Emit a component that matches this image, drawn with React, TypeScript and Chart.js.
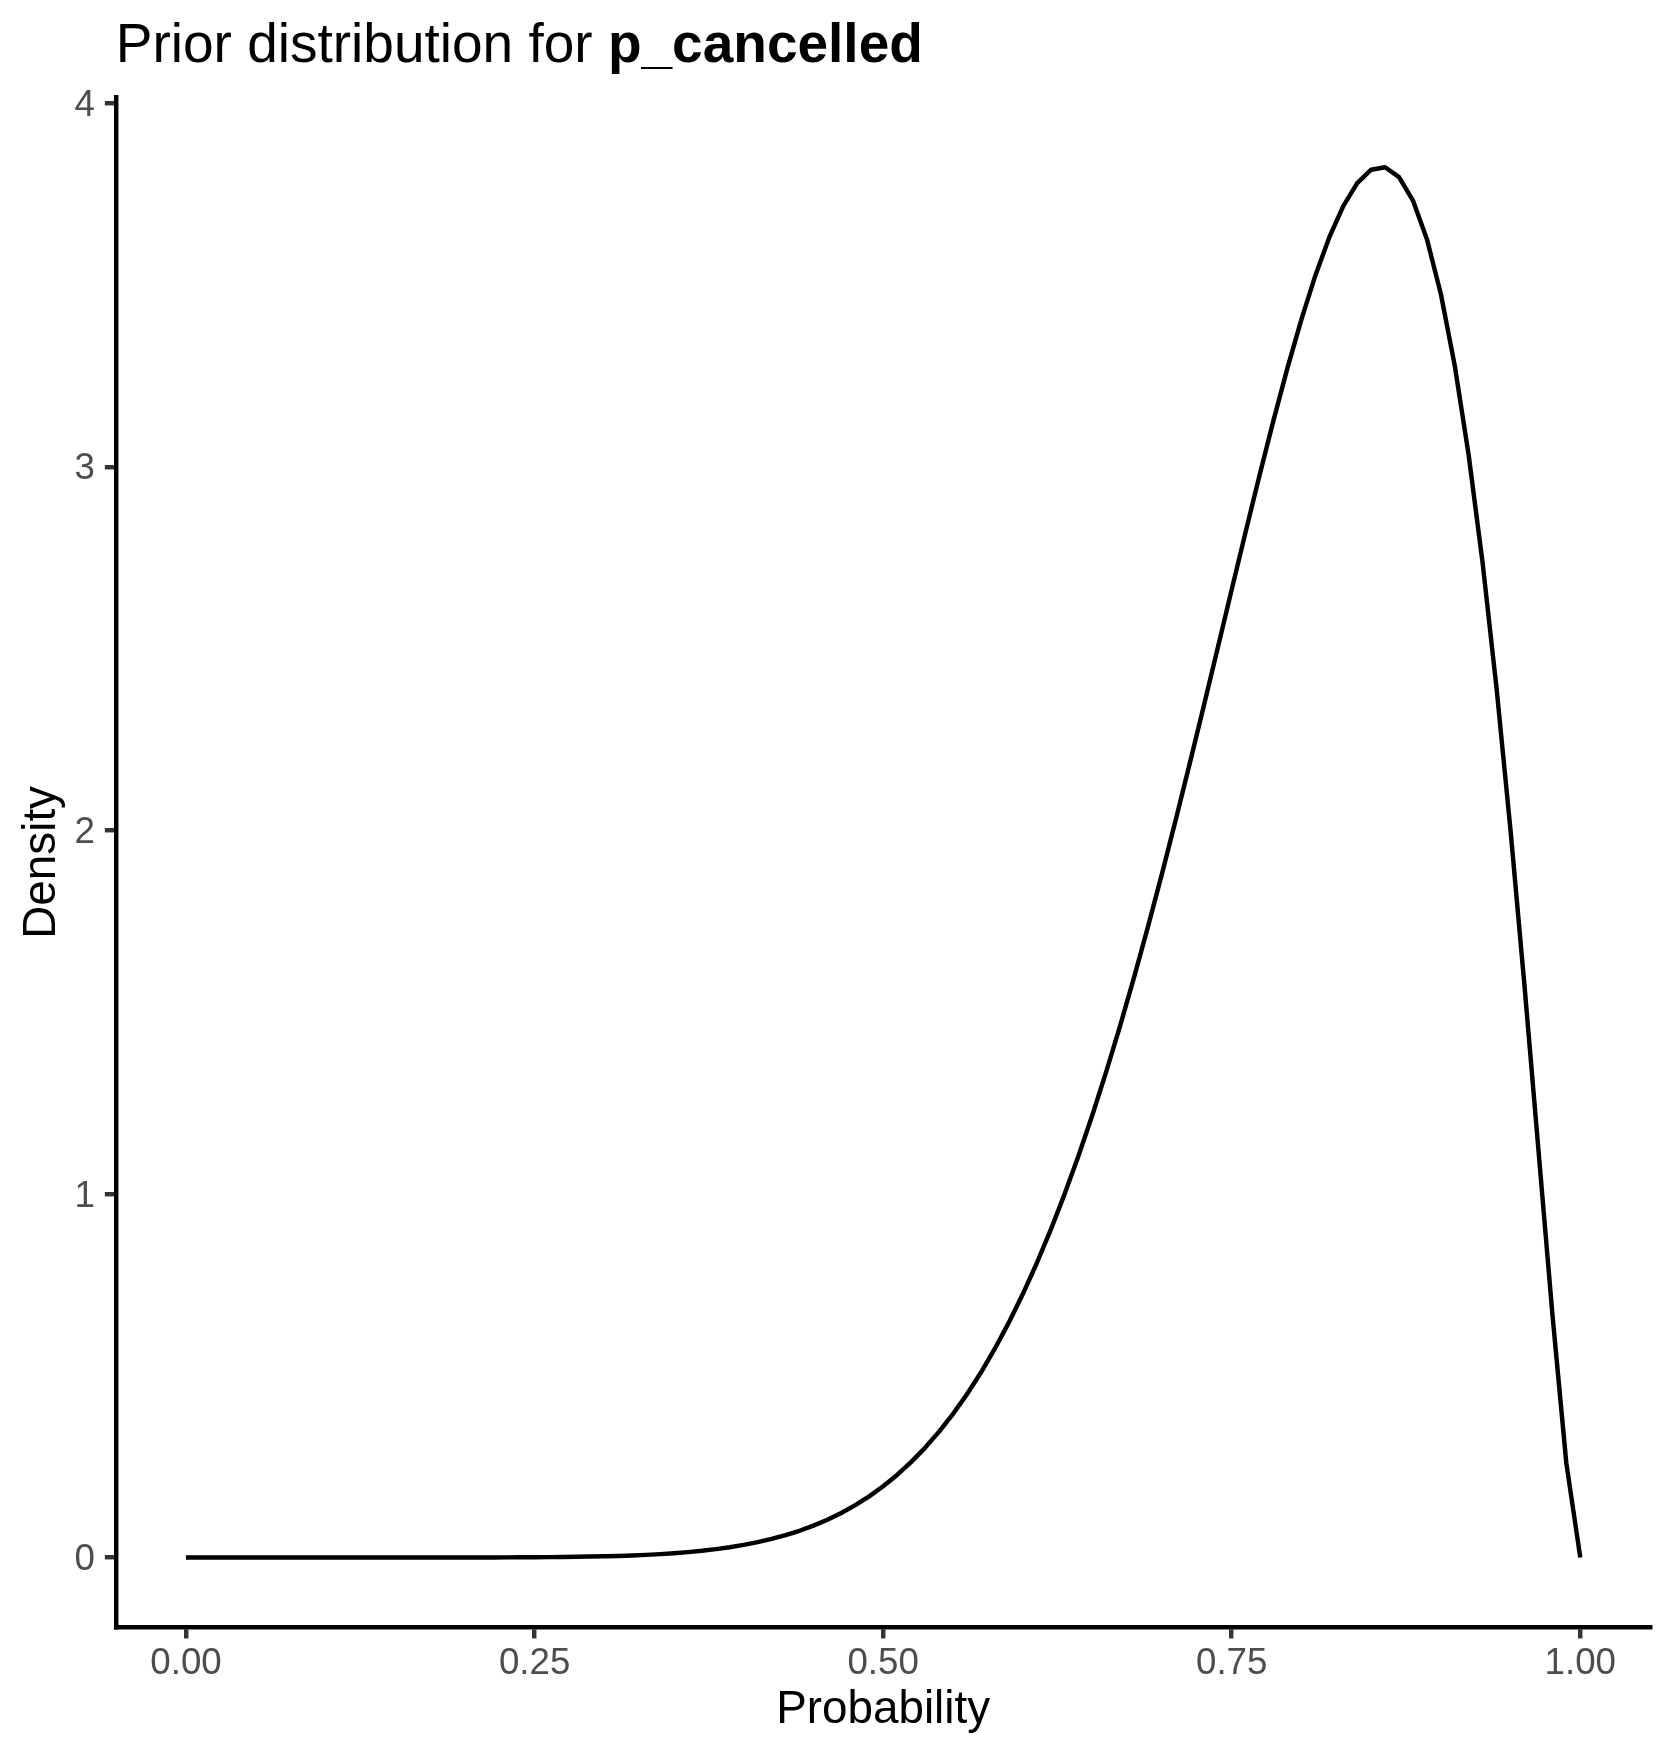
import React, { useEffect, useRef } from "react";
import { Chart, registerables } from "chart.js";

Chart.register(...registerables);

// ---- Data ----
const probabilityGrid = [
  0.0, 0.01, 0.02, 0.03, 0.04, 0.05, 0.06, 0.07, 0.08, 0.09,
  0.1, 0.11, 0.12, 0.13, 0.14, 0.15, 0.16, 0.17, 0.18, 0.19,
  0.2, 0.21, 0.22, 0.23, 0.24, 0.25, 0.26, 0.27, 0.28, 0.29,
  0.3, 0.31, 0.32, 0.33, 0.34, 0.35, 0.36, 0.37, 0.38, 0.39,
  0.4, 0.41, 0.42, 0.43, 0.44, 0.45, 0.46, 0.47, 0.48, 0.49,
  0.5, 0.51, 0.52, 0.53, 0.54, 0.55, 0.56, 0.57, 0.58, 0.59,
  0.6, 0.61, 0.62, 0.63, 0.64, 0.65, 0.66, 0.67, 0.68, 0.69,
  0.7, 0.71, 0.72, 0.73, 0.74, 0.75, 0.76, 0.77, 0.78, 0.79,
  0.8, 0.81, 0.82, 0.83, 0.84, 0.85, 0.86, 0.87, 0.88, 0.89,
  0.9, 0.91, 0.92, 0.93, 0.94, 0.95, 0.96, 0.97, 0.98, 0.99,
  1.0,
];

const densityValues = [
  0, 0, 0, 0, 0, 0, 0, 0, 0, 0,
  0, 0, 0, 0, 0, 0, 0, 0, 0, 0.0001,
  0.0001, 0.0002, 0.0002, 0.0003, 0.0005, 0.0007, 0.001, 0.0014, 0.0018, 0.0025,
  0.0033, 0.0043, 0.0056, 0.0072, 0.0092, 0.0117, 0.0148, 0.0184, 0.0229, 0.0282,
  0.0346, 0.0421, 0.051, 0.0614, 0.0735, 0.0876, 0.1038, 0.1225, 0.1439, 0.1682,
  0.1959, 0.2271, 0.2622, 0.3016, 0.3455, 0.3944, 0.4484, 0.508, 0.5735, 0.6452,
  0.7232, 0.8079, 0.8995, 0.9981, 1.1038, 1.2166, 1.3363, 1.4631, 1.5964, 1.7359,
  1.881, 2.0312, 2.1856, 2.343, 2.5024, 2.6625, 2.8213, 2.9775, 3.1283, 3.2719,
  3.4055, 3.5263, 3.6313, 3.717, 3.7804, 3.8171, 3.824, 3.7968, 3.7322, 3.6261,
  3.4754, 3.2776, 3.0308, 2.7341, 2.3888, 1.999, 1.5717, 1.1206, 0.669, 0.2592,
  0,
];

const xTickValues = [0, 0.25, 0.5, 0.75, 1];
const xTickLabels = ["0.00", "0.25", "0.50", "0.75", "1.00"];
const yTickValues = [0, 1, 2, 3, 4];
const yTickLabels = ["0", "1", "2", "3", "4"];

const titlePlain = "Prior distribution for ";
const titleBold = "p_cancelled";
const xAxisTitle = "Probability";
const yAxisTitle = "Density";

// ---- Layout / style ----
const W = 1673;
const H = 1756;
const FONT = "'Liberation Sans', Arial, Helvetica, sans-serif";
const LINE_W = 4.45;
const TICK_LEN = 11.46;
const TICK_FONT = 36.7;
const AXIS_TITLE_FONT = 45.8;

export default function App() {
  const canvasRef = useRef<HTMLCanvasElement | null>(null);

  useEffect(() => {
    document.body.style.margin = "0";
    const canvas = canvasRef.current;
    if (!canvas) return;

    const points = probabilityGrid.map((x, i) => ({ x, y: densityValues[i] }));

    const chart = new Chart(canvas, {
      type: "line",
      data: {
        datasets: [
          {
            data: points,
            borderColor: "#000000",
            borderWidth: LINE_W,
            pointRadius: 0,
            pointHoverRadius: 0,
            tension: 0,
            fill: false,
            borderCapStyle: "butt",
            borderJoinStyle: "round",
          },
        ],
      },
      options: {
        responsive: false,
        maintainAspectRatio: false,
        animation: false,
        devicePixelRatio: 1,
        events: [],
        layout: { padding: { top: 97.7, right: 23, bottom: 0, left: 0 } },
        plugins: {
          legend: { display: false },
          tooltip: { enabled: false },
          title: { display: false },
        },
        scales: {
          x: {
            type: "linear",
            min: -0.05,
            max: 1.05,
            afterFit: (s: any) => {
              s.height = 129;
            },
            afterBuildTicks: (s: any) => {
              s.ticks = xTickValues.map((v) => ({ value: v }));
            },
            ticks: {
              callback: (_v: any, i: number) => xTickLabels[i],
              color: "#4D4D4D",
              font: { family: FONT, size: TICK_FONT },
              padding: 3.6,
              maxRotation: 0,
              minRotation: 0,
              autoSkip: false,
            },
            grid: {
              display: true,
              drawOnChartArea: false,
              drawTicks: true,
              tickLength: TICK_LEN,
              color: "#333333",
              lineWidth: LINE_W,
            },
            border: { display: true, color: "#000000", width: LINE_W },
            title: {
              display: true,
              text: xAxisTitle,
              color: "#000000",
              font: { family: FONT, size: AXIS_TITLE_FONT },
              padding: { top: 0, bottom: 17.8 },
            },
          },
          y: {
            type: "linear",
            min: -0.1912,
            max: 4.0152,
            afterFit: (s: any) => {
              s.width = 116.3;
            },
            afterBuildTicks: (s: any) => {
              s.ticks = yTickValues.map((v) => ({ value: v }));
            },
            ticks: {
              callback: (_v: any, i: number) => yTickLabels[i],
              color: "#4D4D4D",
              font: { family: FONT, size: TICK_FONT },
              padding: 10,
              labelOffset: 2.5,
              autoSkip: false,
            },
            grid: {
              display: true,
              drawOnChartArea: false,
              drawTicks: true,
              tickLength: TICK_LEN,
              color: "#333333",
              lineWidth: LINE_W,
            },
            border: { display: true, color: "#000000", width: LINE_W },
            title: {
              display: true,
              text: yAxisTitle,
              color: "#000000",
              font: { family: FONT, size: AXIS_TITLE_FONT },
              padding: { top: 14.9, bottom: 0 },
            },
          },
        },
      },
    } as any);

    return () => {
      chart.destroy();
    };
  }, []);

  return (
    <div style={{ position: "absolute", left: 0, top: 0, width: W, height: H, background: "#ffffff" }}>
      <canvas
        ref={canvasRef}
        width={W}
        height={H}
        style={{ display: "block", width: W, height: H }}
      />
      <div
        style={{
          position: "absolute",
          left: 115.8,
          top: 16.1,
          fontFamily: FONT,
          fontSize: 55,
          lineHeight: "55px",
          color: "#000000",
          whiteSpace: "pre",
        }}
      >
        {titlePlain}
        <b>{titleBold}</b>
      </div>
    </div>
  );
}
